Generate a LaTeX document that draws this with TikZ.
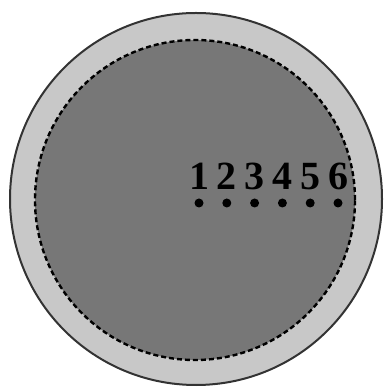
\documentclass[tikz,border=0pt]{standalone}
\usepackage{fontspec}
\setmainfont{Liberation Serif}
\begin{document}
\begin{tikzpicture}[x=1pt,y=1pt,
  lbl/.style={font=\fontsize{40}{40}\selectfont\bfseries, anchor=base, inner sep=0pt},
  pt/.style={circle, fill=black, minimum size=9pt, inner sep=0pt}]
\definecolor{outerg}{HTML}{C8C8C8}
\definecolor{innerg}{HTML}{777777}
\definecolor{rimg}{HTML}{333333}
\useasboundingbox (0,0) rectangle (385,387);
\fill[outerg, draw=rimg, line width=2pt] (196,188) circle (186);
\fill[innerg] (195,187) circle (160);
\draw[black, line width=2.4pt, dash pattern=on 5pt off 3pt] (195,187) circle (160);
\foreach \i in {1,...,6} {
  \node[lbl] (n\i) at ({199+27.8*(\i-1)},197) {\i};
  \node[pt] (d\i) at ({199+27.8*(\i-1)},184) {};
}
\end{tikzpicture}
\end{document}
